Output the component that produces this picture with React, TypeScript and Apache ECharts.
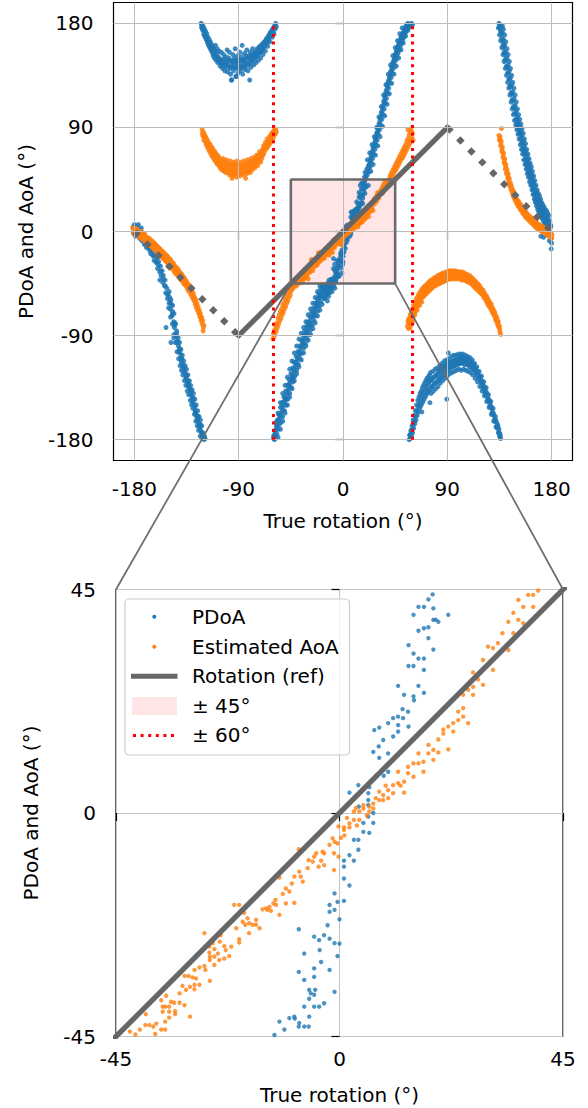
import { useEffect, useRef } from "react";
import * as echarts from "echarts";

type P = [number, number];

const BLUE = "#1f77b4";
const ORANGE = "#ff7f0e";
const REF = "#666666";
const EDGE = "#6b6b6b";
const FONT = "DejaVu Sans";

const topTicks = [-180, -90, 0, 90, 180];
const topRange = 198;
const zoomRange = 45;

const refSolid: P[] = [[-90, -90], [90, 90]];
const refDottedLeft: P[] = [[-180, 0], [-90, -90]];
const refDottedRight: P[] = [[90, 90], [180, 0]];
const limitLeft: P[] = [[-60, -180], [-60, 180]];
const limitRight: P[] = [[60, -180], [60, 180]];
const boxCorners: P[] = [[-45, -45], [45, -45], [45, 45], [-45, 45], [-45, -45]];

// PDoA (blue)
const pdoaA: P[] = [[-181,4],[-180.5,-2],[-180,6],[-179.5,0],[-179,-4],[-178.5,5],[-178,2],[-177.5,-3],[-177,3],[-176,-1],[-175.5,-6],[-175,1],[-174,-3],[-173.5,-8],[-173,-1],[-172,-6],[-171.5,-11],[-171,-4],[-170,-9],[-169.5,-14],[-169,-7],[-168,-12],[-167,-16],[-166.5,-10],[-166,-19],[-165,-14],[-164,-21],[-163.5,-17],[-163,-25],[-162,-20],[-161,-27],[-160.5,-23],[-160,-32],[-159,-26],[-158,-35],[-157.5,-30],[-157,-38],[-156,-34],[-155.5,-44],[-155,-38],[-154,-47],[-153.5,-42],[-153,-53],[-152,-49],[-151.5,-58],[-151,-54],[-150,-62],[-149.5,-57],[-149,-67],[-148,-63],[-147.5,-73],[-147,-69],[-146,-78],[-145.5,-83],[-145,-79],[-144,-90],[-143.5,-86],[-143,-96],[-142,-99],[-141.5,-104],[-141,-101],[-140,-109],[-139.5,-113],[-139,-110],[-138,-117],[-137.5,-121],[-137,-118],[-136,-124],[-135.5,-127],[-135,-124],[-134,-131],[-133.5,-134],[-133,-130],[-132,-138],[-131.5,-141],[-131,-137],[-130,-145],[-129.5,-148],[-129,-144],[-128,-152],[-127.5,-155],[-127,-158],[-126,-161],[-125.5,-164],[-125,-160],[-124,-168],[-123.5,-171],[-123,-167],[-122,-175],[-121.5,-178],[-121,-174],[-120,-180],[-119.5,-177],[-119,-179],[-152.7,-83],[-148.4,-96],[-158,-42],[-146,-92],[-174,3],[-176.5,6]];
const pdoaAfill: P[] = [[-179.25,2],[-177.25,-1],[-175.25,-2],[-173.25,-6],[-171.25,-8],[-169.25,-11],[-167.25,-14],[-165.25,-17],[-163.25,-21],[-161.25,-26],[-159.25,-29],[-157.25,-34],[-155.25,-41],[-153.25,-47],[-151.25,-55],[-149.25,-61],[-147.25,-71],[-145.25,-81],[-143.75,-91],[-142.75,-95],[-141.25,-103],[-140.25,-106],[-139.25,-111],[-138.25,-115],[-137.25,-119],[-136.25,-122],[-135.25,-126],[-134.25,-129],[-133.25,-133],[-132.25,-136],[-131.25,-139],[-130.25,-143],[-129.25,-146],[-128.25,-150],[-127.25,-156],[-126.25,-159],[-125.25,-163],[-124.25,-166],[-123.25,-169],[-122.25,-173],[-121.25,-176],[-150.5,-66],[-148.8,-74],[-147.2,-80],[-145.8,-89],[-144.6,-96],[-143.2,-104],[-141.8,-110],[-140.6,-116],[-139.4,-120],[-138.2,-124],[-136.8,-129],[-135.6,-133],[-134.4,-138],[-133.2,-141],[-131.8,-146],[-130.6,-150],[-129.4,-153],[-128.2,-158],[-127,-164],[-125.8,-168],[-124.6,-172],[-123.2,-177],[-150,-52],[-148.5,-59],[-147,-64],[-145.8,-71],[-144.5,-80],[-143.5,-88],[-142.2,-92],[-141,-96],[-139.8,-102],[-138.6,-107],[-137.4,-112],[-136.2,-116],[-135,-119],[-133.8,-124],[-132.6,-129],[-131.4,-133],[-130.2,-137],[-129,-140],[-127.8,-145],[-126.6,-150],[-125.4,-155],[-124.2,-160],[-123,-163],[-121.8,-168]];

const pdoaB: P[] = [[-122.5,180],[-122,177],[-121.5,179],[-121,174],[-120.5,177],[-120,171],[-119.5,175],[-119,168],[-118.5,173],[-118,166],[-117.5,171],[-117,164],[-116.5,168],[-116,161],[-115.5,166],[-115,159],[-114.5,164],[-114,157],[-113.5,162],[-113,155],[-112.5,160],[-112,152],[-111.5,158],[-111,150],[-110.5,156],[-110,161],[-109.5,148],[-109,154],[-108.5,158],[-108,146],[-107.5,151],[-107,156],[-106,143],[-105.5,149],[-105,155],[-104,141],[-103.5,147],[-103,153],[-102,139],[-101.5,145],[-101,151],[-100,157],[-99.5,138],[-99,144],[-98.5,150],[-98,155],[-97,136],[-96.5,142],[-96,131],[-95.5,148],[-95,153],[-94.5,139],[-94,145],[-93.5,150],[-93,158],[-92.5,134],[-92,141],[-91.5,147],[-91,152],[-90.5,137],[-90,143],[-89.5,149],[-89,155],[-88.5,139],[-88,145],[-87.5,151],[-87,161],[-86.5,136],[-86,142],[-85.5,148],[-85,154],[-84.5,140],[-84,146],[-83.5,152],[-83,157],[-82,139],[-81.5,144],[-81,150],[-80.5,131],[-80,155],[-79.5,142],[-79,148],[-78.5,153],[-78,158],[-77,144],[-76.5,150],[-76,155],[-75,146],[-74.5,152],[-74,158],[-73,148],[-72.5,154],[-72,160],[-71,150],[-70.5,156],[-70,162],[-69,153],[-68.5,159],[-68,164],[-67,156],[-66.5,162],[-66,167],[-65,160],[-64.5,165],[-64,170],[-63,164],[-62.5,169],[-62,173],[-61,168],[-60.5,172],[-60,176],[-59.5,171],[-59,178],[-58.5,175],[-58,180],[-57.5,177],[-96.3,131],[-92.2,134]];
const pdoaBfill: P[] = [[-121.75,176],[-120.75,175],[-119.75,170],[-118.75,170],[-117.75,167],[-116.75,163],[-115.75,162],[-114.75,161],[-113.75,158],[-112.75,158],[-111.75,154],[-110.75,153],[-109.75,151],[-108.75,150],[-107.75,149],[-106.75,147],[-105.75,146],[-104.75,145],[-103.75,144],[-102.75,149],[-101.75,142],[-100.75,147],[-99.75,143],[-98.75,148],[-97.75,141],[-96.75,147],[-95.75,143],[-94.75,147],[-93.75,142],[-92.75,148],[-91.75,143],[-90.75,147],[-89.75,141],[-88.75,148],[-87.75,142],[-86.75,148],[-85.75,144],[-84.75,149],[-83.75,143],[-82.75,150],[-81.75,146],[-80.75,152],[-79.75,146],[-78.75,151],[-77.75,148],[-76.75,153],[-75.75,150],[-74.75,155],[-73.75,152],[-72.75,158],[-71.75,155],[-70.75,160],[-69.75,157],[-68.75,162],[-67.75,160],[-66.75,165],[-65.75,163],[-64.75,168],[-63.75,167],[-62.75,172],[-61.75,171],[-60.75,175],[-59.75,176],[-58.75,177]];

const pdoaC: P[] = [[-60,-179],[-59.5,-176],[-59,-180],[-58.5,-172],[-58,-177],[-57.5,-168],[-57,-175],[-56.5,-163],[-56,-171],[-55.5,-158],[-55,-167],[-54.5,-161],[-54,-152],[-53.5,-165],[-53,-156],[-52.5,-148],[-52,-160],[-51.5,-151],[-51,-143],[-50.5,-155],[-50,-146],[-49.5,-138],[-49,-150],[-48.5,-141],[-48,-133],[-47.5,-145],[-47,-136],[-46.5,-128],[-46,-140],[-45.5,-131],[-45,-123],[-44.5,-135],[-44,-126],[-43.5,-118],[-43,-130],[-42.5,-121],[-42,-113],[-41.5,-125],[-41,-116],[-40.5,-108],[-40,-120],[-39.5,-111],[-39,-104],[-38.5,-115],[-38,-106],[-37.5,-99],[-37,-110],[-36.5,-101],[-36,-94],[-35.5,-105],[-35,-97],[-34.5,-90],[-34,-101],[-33.5,-93],[-33,-86],[-32.5,-97],[-32,-89],[-31.5,-82],[-31,-93],[-30.5,-85],[-30,-78],[-29.5,-89],[-29,-81],[-28.5,-74],[-28,-85],[-27.5,-77],[-27,-70],[-26.5,-81],[-26,-73],[-25.5,-66],[-25,-77],[-24.5,-69],[-24,-62],[-23.5,-73],[-23,-65],[-22.5,-58],[-22,-69],[-21.5,-61],[-21,-54],[-20.5,-65],[-20,-57],[-19.5,-50],[-19,-61],[-18.5,-53],[-18,-47],[-17.5,-57],[-17,-50],[-16.5,-54],[-16,-47],[-15.5,-58],[-15,-51],[-14.5,-55],[-14,-48],[-13.5,-60],[-13,-52],[-12.5,-56],[-12,-49],[-11.5,-53],[-11,-47],[-10.5,-50],[-10,-46],[-9.5,-52],[-9,-48],[-8,-47],[-7,-49]];
const pdoaCfill: P[] = [[-59.75,-177],[-58.75,-173],[-57.75,-171],[-56.75,-167],[-55.75,-163],[-54.75,-158],[-53.75,-160],[-52.75,-152],[-51.75,-155],[-50.75,-147],[-49.75,-144],[-48.75,-145],[-47.75,-139],[-46.75,-132],[-45.75,-135],[-44.75,-128],[-43.75,-124],[-42.75,-126],[-41.75,-119],[-40.75,-113],[-39.75,-115],[-38.75,-109],[-37.75,-104],[-36.75,-106],[-35.75,-99],[-34.75,-94],[-33.75,-97],[-32.75,-90],[-31.75,-87],[-30.75,-89],[-29.75,-82],[-28.75,-79],[-27.75,-81],[-26.75,-74],[-25.75,-70],[-24.75,-72],[-23.75,-66],[-22.75,-62],[-21.75,-64],[-20.75,-58],[-19.75,-55],[-18.75,-56],[-17.75,-51],[-16.75,-49],[-15.75,-51],[-14.75,-47],[-13.75,-53],[-12.75,-46],[-58,-165],[-56,-157],[-54,-148],[-52,-140],[-50,-133],[-48,-126],[-46,-119],[-44,-112],[-42,-105],[-40,-99],[-38,-93],[-36,-88],[-34,-83],[-32,-78],[-30,-72],[-28,-67],[-26,-62],[-24,-57],[-22,-52],[-20,-47],[-56,-178],[-54,-171],[-52,-164],[-50,-157],[-48,-150],[-46,-143],[-44,-136],[-42,-129],[-40,-123],[-38,-117],[-36,-111],[-34,-105],[-32,-99],[-30,-94],[-28,-89],[-26,-84],[-24,-79],[-22,-73],[-20,-68],[-18,-63],[-16,-58],[-14,-54],[-12,-51],[-10,-48]];

const pdoaWin: P[] = [[-13.1,-44.7],[-12.1,-42.0],[-11.1,-43.6],[-10.1,-41.3],[-9.1,-41.0],[-9.0,-41.4],[-8.1,-42.3],[-8.2,-43.0],[-7.1,-43.0],[-6.2,-43.0],[-6.1,-41.0],[-7.1,-39.0],[-5.1,-39.0],[-6.1,-35.6],[-5.8,-36.3],[-5.1,-36.6],[-4.1,-39.0],[-3.1,-38.3],[-4.9,-35.6],[-6.1,-37.4],[-1.0,-36.0],[-7.1,-33.6],[-8.2,-32.0],[-5.1,-31.3],[-5.1,-33.0],[-3.7,-30.0],[-2.0,-31.6],[-7.1,-28.3],[-8.2,-23.4],[-5.1,-24.9],[-4.1,-25.6],[-4.0,-27.6],[-3.1,-24.6],[-2.0,-25.3],[-2.4,-22.6],[-1.0,-26.2],[-0.4,-28.8],[-2.0,-19.9],[-1.0,-19.5],[-2.0,-18.5],[-1.0,-16.2],[-0.4,-17.9],[0,-26.3],[0,-21.4],[0.9,-17.7],[0.9,-13.2],[2,-14.6],[0.9,-10.8],[0.9,-9.6],[2,-8.5],[2.9,-9.6],[2.9,-5.4],[3.8,-5.4],[3.8,-7.4],[4.8,-3.8],[6,-4],[6.8,-2],[4.8,-2],[5.8,-0.7],[6.8,0],[5.8,1.6],[3.9,1.3],[5.8,2.6],[3.8,5.6],[2,4.1],[6,5.2],[5.8,4],[7.5,7.6],[8.8,8.7],[8.9,7.5],[9.8,8.3],[6.8,12.3],[8,11.1],[8.8,14.7],[7.9,13.4],[9.8,12],[10.8,15.4],[9.8,18.1],[11.8,16.4],[10.8,19.1],[7,16.7],[8,17.2],[11.8,19.4],[12.8,19.1],[13.8,20.4],[11.8,17.7],[13.9,17.4],[12.7,20.9],[13,23.8],[15,22.7],[14.9,23.5],[15.9,25.6],[17,24.2],[11.8,25.6],[13.9,29.6],[14.9,29.6],[15.9,31.1],[17,31.1],[17,28.8],[13.9,33.8],[14.9,32.1],[18.9,32.9],[15.9,36.7],[17,37.2],[17.9,37.4],[17.9,35.2],[14.9,39.9],[15.9,41.5],[17,41.5],[17.9,43],[18.9,41.2],[18.9,38.9],[19.9,38.5],[21.9,39.9],[19.4,38.9]];

const pdoaUp: P[] = [[18.5,47],[19,51],[20,46],[20.5,54],[21,49],[22,57],[22.5,52],[23,61],[23.5,56],[24,64],[24.5,59],[25,68],[25.5,63],[26,72],[26.5,67],[27,76],[27.5,71],[28,80],[28.5,75],[29,85],[29.5,79],[30,89],[30.5,84],[31,93],[31.5,88],[32,98],[32.5,92],[33,103],[33.5,97],[34,107],[34.5,101],[35,112],[35.5,106],[36,117],[36.5,111],[37,121],[37.5,115],[38,126],[38.5,120],[39,130],[39.5,124],[40,134],[40.5,129],[41,138],[41.5,133],[42,142],[42.5,137],[43,146],[43.5,141],[44,149],[44.5,144],[45,153],[45.5,148],[46,156],[46.5,151],[47,159],[47.5,154],[48,162],[48.5,157],[49,165],[49.5,160],[50,168],[50.5,163],[51,170],[51.5,166],[52,172],[52.5,168],[53,175],[53.5,171],[54,177],[54.5,173],[55,179],[55.5,175],[56,180],[56.5,177],[57,179],[58,178],[59,180],[60,179]];
const pdoaUpFill: P[] = [[18.75,44],[19.75,48],[20.75,51],[21.75,55],[22.75,58],[23.75,62],[24.75,66],[25.75,70],[26.75,74],[27.75,78],[28.75,82],[29.75,86],[30.75,90],[31.75,95],[32.75,100],[33.75,104],[34.75,109],[35.75,114],[36.75,118],[37.75,123],[38.75,127],[39.75,131],[40.75,135],[41.75,139],[42.75,143],[43.75,147],[44.75,150],[45.75,154],[46.75,157],[47.75,160],[48.75,163],[49.75,166],[50.75,168],[51.75,171],[52.75,173],[53.75,176],[54.75,177],[55.75,178],[21,62],[23,68],[25,75],[27,82],[29,90],[31,99],[33,108],[35,118],[37,127],[39,136],[41,144],[43,152],[45,159],[47,165],[49,171],[51,176],[24,52],[26,58],[28,66],[30,74],[32,82],[34,91],[36,100],[38,110],[40,119],[42,128],[44,136],[46,143],[48,150],[50,157],[52,163],[54,169],[56,174],[58,177]];

const pdoaD: P[] = [[57,-180],[57.5,-176],[58,-179],[58.5,-172],[59,-177],[59.5,-168],[60,-174],[60.5,-163],[61,-170],[61.5,-159],[62,-166],[62.5,-155],[63,-163],[63.5,-150],[64,-159],[64.5,-146],[65,-156],[65.5,-143],[66,-153],[66.5,-140],[67,-151],[67.5,-138],[68,-149],[68.5,-135],[69,-147],[69.5,-133],[70,-145],[70.5,-131],[71,-143],[71.5,-129],[72,-141],[72.5,-127],[73,-139],[73.5,-126],[74,-138],[74.5,-124],[75,-136],[75.5,-122],[76,-140],[76.5,-128],[77,-134],[77.5,-121],[78,-138],[78.5,-126],[79,-132],[79.5,-119],[80,-136],[80.5,-124],[81,-130],[81.5,-118],[82,-134],[82.5,-121],[83,-128],[83.5,-116],[84,-131],[84.5,-119],[85,-126],[85.5,-114],[86,-129],[86.5,-117],[87,-124],[87.5,-112],[88,-127],[88.5,-115],[89,-122],[89.5,-111],[90,-125],[90.5,-114],[91,-120],[91.5,-110],[92,-123],[92.5,-113],[93,-118],[93.5,-108],[94,-122],[94.5,-112],[95,-117],[95.5,-107],[96,-121],[96.5,-111],[97,-116],[97.5,-107],[98,-120],[98.5,-110],[99,-115],[99.5,-106],[100,-119],[100.5,-109],[101,-114],[101.5,-106],[102,-120],[102.5,-109],[103,-114],[103.5,-106],[104,-119],[104.5,-110],[105,-115],[105.5,-107],[106,-120],[106.5,-110],[107,-115],[107.5,-108],[108,-121],[108.5,-111],[109,-117],[109.5,-109],[110,-122],[110.5,-113],[111,-118],[111.5,-111],[112,-124],[112.5,-115],[113,-120],[113.5,-114],[114,-127],[114.5,-118],[115,-123],[115.5,-117],[116,-130],[116.5,-122],[117,-127],[117.5,-121],[118,-134],[118.5,-126],[119,-131],[119.5,-125],[120,-138],[120.5,-131],[121,-136],[121.5,-130],[122,-142],[122.5,-136],[123,-141],[123.5,-135],[124,-147],[124.5,-141],[125,-146],[125.5,-141],[126,-152],[126.5,-147],[127,-152],[127.5,-147],[128,-158],[128.5,-153],[129,-158],[129.5,-153],[130,-164],[130.5,-159],[131,-164],[131.5,-160],[132,-169],[132.5,-165],[133,-170],[133.5,-167],[134,-174],[134.5,-171],[135,-177],[135.5,-175],[136,-179],[90.9,-105],[89.5,-145],[75,-148],[68,-156]];
const pdoaDfill: P[] = [[57.75,-176],[58.75,-174],[59.75,-171],[60.75,-167],[61.75,-164],[62.75,-160],[63.75,-155],[64.75,-151],[65.75,-149],[66.75,-146],[67.75,-143],[68.75,-141],[69.75,-139],[70.75,-137],[71.75,-135],[72.75,-133],[73.75,-131],[74.75,-130],[75.75,-128],[76.75,-134],[77.75,-126],[78.75,-131],[79.75,-125],[80.75,-130],[81.75,-123],[82.75,-127],[83.75,-121],[84.75,-124],[85.75,-119],[86.75,-122],[87.75,-117],[88.75,-120],[89.75,-116],[90.75,-118],[91.75,-114],[92.75,-117],[93.75,-113],[94.75,-116],[95.75,-112],[96.75,-115],[97.75,-112],[98.75,-114],[99.75,-111],[100.75,-114],[101.75,-110],[102.75,-113],[103.75,-110],[104.75,-113],[105.75,-111],[106.75,-114],[107.75,-112],[108.75,-115],[109.75,-113],[110.75,-117],[111.75,-115],[112.75,-119],[113.75,-118],[114.75,-122],[115.75,-121],[116.75,-125],[117.75,-125],[118.75,-129],[119.75,-129],[120.75,-134],[121.75,-134],[122.75,-139],[123.75,-139],[124.75,-144],[125.75,-145],[126.75,-150],[127.75,-151],[128.75,-156],[129.75,-157],[130.75,-162],[131.75,-163],[132.75,-168],[133.75,-169],[134.75,-174],[135.75,-177]];

const pdoaE: P[] = [[134.5,180],[135,177],[135.5,179],[136,173],[136.5,177],[137,167],[137.5,172],[138,161],[138.5,166],[139,155],[139.5,161],[140,149],[140.5,155],[141,143],[141.5,150],[142,137],[142.5,144],[143,132],[143.5,139],[144,126],[144.5,133],[145,120],[145.5,127],[146,114],[146.5,121],[147,108],[147.5,115],[148,102],[148.5,109],[149,97],[149.5,104],[150,93],[150.5,99],[151,89],[151.5,95],[152,85],[152.5,91],[153,80],[153.5,87],[154,76],[154.5,83],[155,71],[155.5,78],[156,67],[156.5,74],[157,62],[157.5,70],[158,58],[158.5,66],[159,55],[159.5,62],[160,51],[160.5,58],[161,47],[161.5,54],[162,44],[162.5,50],[163,40],[163.5,47],[164,36],[164.5,43],[165,32],[165.5,39],[166,28],[166.5,35],[167,25],[167.5,32],[168,22],[168.5,29],[169,20],[169.5,27],[170,17],[170.5,24],[171,15],[171.5,22],[172,13],[172.5,20],[173,11],[173.5,18],[174,9],[174.5,16],[175,7],[175.5,14],[176,6],[176.5,12],[177,4],[177.5,10],[178,2],[178.5,8],[179,-1],[179.3,5],[179.5,-6],[180,-10],[179.6,-15],[170.7,-4],[173,-5],[176,-3],[178,-8]];
const pdoaEfill: P[] = [[135.75,175],[136.75,171],[137.75,164],[138.75,159],[139.75,153],[140.75,148],[141.75,142],[142.75,137],[143.75,131],[144.75,125],[145.75,119],[146.75,113],[147.75,107],[148.75,102],[149.75,97],[150.75,93],[151.75,89],[152.75,85],[153.75,81],[154.75,77],[155.75,72],[156.75,68],[157.75,64],[158.75,60],[159.75,56],[160.75,52],[161.75,49],[162.75,45],[163.75,41],[164.75,37],[165.75,33],[166.75,30],[167.75,27],[168.75,24],[169.75,21],[170.75,19],[171.75,17],[172.75,15],[173.75,13],[174.75,11],[175.75,9],[176.75,7],[177.75,5],[178.75,3],[137.5,178],[138.5,175],[139.5,170],[140.5,164],[141.5,158],[142.5,153],[143.5,147],[144.5,141],[145.5,135],[146.5,129],[147.5,124],[148.5,118],[149.5,112],[150.5,106],[151.5,101],[152.5,97],[153.5,93],[154.5,89],[155.5,85],[156.5,80],[157.5,76],[158.5,71],[159.5,67],[160.5,63],[161.5,59],[162.5,56],[163.5,52],[164.5,48],[165.5,44],[166.5,40],[167.5,36],[168.5,33],[169.5,31],[170.5,28],[171.5,25],[172.5,23],[173.5,21],[174.5,19],[175.5,18],[176.5,16],[177.5,14],[134,176],[135,170],[136,165],[137,159],[138,153],[139,147],[140,141],[141,135],[142,129],[143,124],[144,118],[145,112],[146,106],[147,101],[148,96],[149,92],[150,88],[151,84],[152,80],[153,75],[154,71],[155,67],[156,62],[157,58],[158,54],[159,50],[160,47],[161,43],[162,40],[163,36],[164,32],[165,28],[166,25],[167,22],[168,19],[169,17],[170,15],[171,13],[172,11],[173,9],[174,7],[175,5],[176,3],[177,1]];

// Estimated AoA (orange)
const aoaA: P[] = [[-181.5,3],[-181,-1],[-180.5,2],[-180,-2],[-179.5,3],[-179,-1],[-178.5,1],[-178,-3],[-177.5,2],[-177,-2],[-176.5,-4],[-176,0],[-175.5,-5],[-175,-1],[-174.5,-4],[-174,0],[-173.5,-6],[-173,-2],[-172.5,-7],[-172,-3],[-171.5,-6],[-171,-2],[-170.5,-9],[-170,-5],[-169.5,-9],[-169,-5],[-168.5,-10],[-168,-6],[-167.5,-11],[-167,-6],[-166.5,-12],[-166,-8],[-165.5,-12],[-165,-8],[-164.5,-14],[-164,-9],[-163.5,-14],[-163,-10],[-162.5,-16],[-162,-11],[-161.5,-16],[-161,-12],[-160.5,-18],[-160,-13],[-159.5,-18],[-159,-14],[-158.5,-20],[-158,-15],[-157.5,-21],[-157,-16],[-156.5,-22],[-156,-17],[-155.5,-23],[-155,-18],[-154.5,-23],[-154,-19],[-153.5,-25],[-153,-20],[-152.5,-26],[-152,-21],[-151.5,-27],[-151,-22],[-150.5,-29],[-150,-24],[-149.5,-29],[-149,-24],[-148.5,-31],[-148,-26],[-147.5,-32],[-147,-27],[-146.5,-33],[-146,-28],[-145.5,-35],[-145,-30],[-144.5,-36],[-144,-31],[-143.5,-37],[-143,-32],[-142.5,-38],[-142,-33],[-141.5,-39],[-141,-35],[-140.5,-41],[-140,-36],[-139.5,-42],[-139,-37],[-138.5,-43],[-138,-39],[-137.5,-45],[-137,-40],[-136.5,-46],[-136,-42],[-135.5,-47],[-135,-43],[-134.5,-49],[-134,-45],[-133.5,-51],[-133,-46],[-132.5,-52],[-132,-48],[-131.5,-54],[-131,-50],[-130.5,-56],[-130,-52],[-129.5,-58],[-129,-54],[-128.5,-60],[-128,-57],[-127.5,-63],[-127,-59],[-126.5,-66],[-126,-62],[-125.5,-68],[-125,-65],[-124.5,-71],[-124,-68],[-123.5,-74],[-123,-71],[-122.5,-77],[-122,-74],[-121.5,-80],[-121,-77],[-120.5,-83],[-120,-81],[-120.7,-86]];
const aoaAfill: P[] = [[-180.25,0],[-178.25,-1],[-176.25,-2],[-174.25,-3],[-172.25,-5],[-170.25,-7],[-168.25,-8],[-166.25,-10],[-164.25,-11],[-162.25,-13],[-160.25,-15],[-158.25,-17],[-156.25,-19],[-154.25,-21],[-152.25,-23],[-150.25,-26],[-148.25,-28],[-146.25,-30],[-144.25,-33],[-142.25,-35],[-140.25,-38],[-138.25,-41],[-136.25,-44],[-134.25,-47],[-132.25,-50],[-130.25,-54],[-128.25,-58],[-126.25,-64],[-124.25,-70],[-122.25,-75]];

const aoaB: P[] = [[-121.5,88],[-121,83],[-120.5,86],[-120,79],[-119.5,84],[-119,78],[-118.5,82],[-118,75],[-117.5,80],[-117,73],[-116.5,78],[-116,71],[-115.5,76],[-115,69],[-114.5,75],[-114,67],[-113.5,73],[-113,65],[-112.5,72],[-112,64],[-111.5,70],[-111,62],[-110.5,69],[-110,61],[-109.5,67],[-109,59],[-108.5,66],[-108,58],[-107.5,65],[-107,57],[-106.5,63],[-106,55],[-105.5,62],[-105,54],[-104.5,61],[-104,53],[-103.5,63],[-103,56],[-102.5,52],[-102,60],[-101.5,55],[-101,51],[-100.5,62],[-100,57],[-99.5,51],[-99,59],[-98.5,54],[-98,49],[-97.5,61],[-97,56],[-96.5,50],[-96,58],[-95.5,53],[-95,48],[-94.5,60],[-94,55],[-93.5,50],[-93,58],[-92.5,52],[-92,47],[-91.5,61],[-91,55],[-90.5,49],[-90,58],[-89.5,53],[-89,48],[-88.5,60],[-88,55],[-87.5,50],[-87,58],[-86.5,53],[-86,49],[-85.5,61],[-85,56],[-84.5,51],[-84,59],[-83.5,54],[-83,50],[-82.5,62],[-82,57],[-81.5,52],[-81,60],[-80.5,55],[-80,51],[-79.5,63],[-79,58],[-78.5,53],[-78,61],[-77.5,56],[-77,64],[-76.5,59],[-76,55],[-75.5,63],[-75,58],[-74.5,66],[-74,61],[-73.5,57],[-73,66],[-72.5,61],[-72,69],[-71.5,64],[-71,60],[-70.5,68],[-70,63],[-69.5,71],[-69,66],[-68.5,74],[-68,68],[-67.5,72],[-67,77],[-66.5,71],[-66,75],[-65.5,80],[-65,73],[-64.5,78],[-64,75],[-63.5,82],[-63,76],[-62.5,80],[-62,84],[-61.5,78],[-61,83],[-60.5,86],[-60,81],[-59.5,85],[-59,89],[-58.5,84],[-58,88],[-57.5,86],[-95.8,46],[-84,46]];
const aoaBfill: P[] = [[-121.25,85],[-120.25,82],[-119.25,81],[-118.25,78],[-117.25,76],[-116.25,74],[-115.25,72],[-114.25,71],[-113.25,69],[-112.25,68],[-111.25,66],[-110.25,65],[-109.25,63],[-108.25,62],[-107.25,61],[-106.25,59],[-105.25,58],[-104.25,57],[-103.25,59],[-102.25,56],[-101.25,58],[-100.25,54],[-99.25,56],[-98.25,52],[-97.25,58],[-96.25,54],[-95.25,51],[-94.25,57],[-93.25,53],[-92.25,50],[-91.25,58],[-90.25,52],[-89.25,56],[-88.25,51],[-87.25,56],[-86.25,51],[-85.25,58],[-84.25,53],[-83.25,57],[-82.25,52],[-81.25,58],[-80.25,54],[-79.25,60],[-78.25,56],[-77.25,61],[-76.25,57],[-75.25,62],[-74.25,59],[-73.25,64],[-72.25,62],[-71.25,67],[-70.25,65],[-69.25,69],[-68.25,71],[-67.25,74],[-66.25,73],[-65.25,77],[-64.25,76],[-63.25,79],[-62.25,82],[-61.25,85],[-60.25,84],[-59.25,87]];

const aoaLow: P[] = [[-60.5,-93],[-60,-88],[-59.5,-91],[-59,-85],[-58.5,-88],[-58,-82],[-57.5,-86],[-57,-79],[-56.5,-83],[-56,-75],[-55.5,-80],[-55,-72],[-54.5,-77],[-54,-69],[-53.5,-75],[-53,-67],[-52.5,-72],[-52,-64],[-51.5,-70],[-51,-62],[-50.5,-67],[-50,-59],[-49.5,-65],[-49,-57],[-48.5,-62],[-48,-54],[-47.5,-60],[-47,-51],[-46.5,-57],[-46,-49],[-45.5,-55],[-45.3,-47],[-45,-52],[-44.5,-48],[-44,-50],[-43.5,-47],[-43,-49],[-42,-47],[-41,-46],[-40,-47]];

const aoaWin: P[] = [[-42.2,-44.0],[-41.1,-44.6],[-40.2,-43.6],[-39.0,-40.5],[-39.1,-42.7],[-38.3,-42.7],[-37.5,-43.0],[-36.9,-42.4],[-37.1,-44.5],[-35.9,-43.6],[-35.1,-43.6],[-35.1,-42.0],[-34.3,-41.2],[-35.6,-40.0],[-35.6,-39.0],[-35.1,-39.0],[-34.3,-39.0],[-33.3,-38.2],[-32.2,-38.2],[-33.9,-38.0],[-33.1,-39.9],[-34.3,-40.0],[-33.1,-40.5],[-31.2,-38.7],[-30.1,-41.0],[-35.9,-37.7],[-34.9,-36.8],[-32.2,-36.3],[-31.6,-34.8],[-30.9,-35.6],[-30.1,-35.0],[-29.2,-34.6],[-30.4,-32.8],[-29.6,-33.1],[-28.9,-33.3],[-28.2,-34.6],[-31.2,-32.8],[-29.2,-31.6],[-28.2,-31.1],[-27.2,-30.8],[-27.0,-31.6],[-26.1,-33.8],[-29.2,-35.5],[-27.2,-24.2],[-26.2,-26.9],[-25.5,-26.2],[-25.2,-27.4],[-26.2,-28.1],[-26.1,-28.9],[-26.1,-29.6],[-25.2,-28.9],[-24.5,-28.3],[-24.1,-25.9],[-23.9,-24.6],[-23.2,-26.8],[-22.9,-27.6],[-22.2,-28.8],[-21.8,-26.9],[-24.2,-29.6],[-23.2,-29.3],[-25.2,-30.6],[-20.2,-25.4],[-20.2,-26.1],[-19.5,-21.9],[-19.0,-22.5],[-18.2,-22.2],[-18.2,-24.2],[-17.5,-22.5],[-16.8,-22.5],[-16.1,-23.2],[-21.2,-18.5],[-20.2,-18.5],[-20.8,-23.2],[-19.2,-20.1],[-18.5,-21.2],[-16.8,-21.5],[-15.5,-19.4],[-14.8,-19.2],[-14.5,-19.5],[-14.1,-18.9],[-13.8,-19.7],[-13.3,-18.2],[-12.9,-17.5],[-12.8,-18.5],[-12.1,-20.5],[-12.1,-13.0],[-11.4,-16.3],[-10.8,-15.2],[-10.8,-18.2],[-10.1,-15.8],[-9.6,-14.2],[-9.1,-18.1],[-9.1,-12.8],[-8.2,-7.3],[-8.1,-11.8],[-7.8,-12.8],[-7.4,-13.8],[-6.4,-11.1],[-6.2,-9.5],[-5.4,-9.8],[-5.1,-8.8],[-4.7,-8.1],[-4.2,-10.8],[-3.7,-9.6],[-3.1,-10.5],[-3.4,-7.8],[-3.1,-8.1],[-2.0,-6.4],[-1.4,-5.1],[-1.0,-5.8],[-0.4,-6.1],[-0.2,-2.7],[-0.2,-8.8],[-1.1,-11.5],[-1.1,-8.1],[0.9,-2.9],[0.9,-3.4],[2,-2.9],[2,-2.1],[2.9,-1.4],[2.9,0.3],[4,-1.4],[4,0.3],[4.8,0.9],[4.8,1.6],[6,1.3],[6,0.3],[6.8,0.9],[6.8,1.9],[8,4.3],[8,2.6],[8.8,3.6],[8.8,2.6],[9.8,3],[9.8,4.6],[10.8,4],[10.8,5.6],[11.8,6],[11.8,8.3],[13,4.1],[13,6.3],[13.8,8],[13.8,9.3],[14.9,10],[14.9,7.3],[15.9,12],[15.9,10],[16.9,8.3],[16.9,10.3],[17.9,12],[17.9,13.7],[18.9,12.7],[18.9,10.7],[19.9,12.2],[19.9,14.8],[20.9,16],[20.9,16.8],[21.9,12.8],[21.9,17.4],[22.9,18.1],[22.9,16.4],[23.9,20.4],[23.9,18.7],[24.9,21.1],[24.9,19.4],[25.9,18.1],[24.9,23.8],[25.9,24.8],[26.9,25.4],[26.9,23.8],[26.9,28.3],[27.9,26.9],[28.9,25.8],[28.9,30.8],[29.9,29.8],[29.9,33.5],[30.9,28.8],[30.9,33.2],[31.9,34.2],[32.8,36.2],[34,32.8],[34,38.5],[35,36.2],[35,40.3],[36,38.9],[36,42.9],[37,38.2],[37,41.5],[38,43.9],[39,41.5],[39,43.9],[40,44.8],[0.3,-5],[1,-4.5],[1.5,-1],[3.5,-2.5],[5.5,-0.5],[7.3,3],[9.3,5.5],[12.3,5.5],[3.3,1]];

const aoaUp: P[] = [[40.5,47],[41,49],[41.5,46],[42,51],[42.5,48],[43,53],[43.5,50],[44,55],[44.5,52],[45,57],[45.5,53],[46,59],[46.5,55],[47,61],[47.5,57],[48,63],[48.5,59],[49,65],[49.5,61],[50,67],[50.5,63],[51,69],[51.5,64],[52,71],[52.5,66],[53,73],[53.5,68],[54,75],[54.5,70],[55,78],[55.5,72],[56,80],[56.5,74],[57,83],[57.5,76],[58,85],[58.5,79],[59,87],[59.5,81],[60,85],[60.5,79],[56,88],[58.5,89]];

const aoaD: P[] = [[55.5,-82],[56,-77],[56.5,-84],[57,-75],[57.5,-80],[58,-72],[58.5,-78],[59,-70],[59.5,-75],[60,-67],[60.5,-74],[61,-64],[61.5,-71],[62,-62],[62.5,-69],[63,-59],[63.5,-66],[64,-57],[64.5,-64],[65,-55],[65.5,-62],[66,-53],[66.5,-60],[67,-52],[67.5,-58],[68,-50],[68.5,-57],[69,-49],[69.5,-56],[70,-48],[70.5,-55],[71,-47],[71.5,-54],[72,-46],[72.5,-53],[73,-45],[73.5,-52],[74,-44],[74.5,-51],[75,-43],[75.5,-50],[76,-42],[76.5,-49],[77,-42],[77.5,-48],[78,-41],[78.5,-47],[79,-40],[79.5,-47],[80,-40],[80.5,-46],[81,-39],[81.5,-46],[82,-38],[82.5,-45],[83,-38],[83.5,-45],[84,-37],[84.5,-44],[85,-37],[85.5,-44],[86,-36],[86.5,-43],[87,-36],[87.5,-43],[88,-36],[88.5,-42],[89,-35],[89.5,-42],[90,-35],[90.5,-41],[91,-34],[91.5,-41],[92,-35],[92.5,-41],[93,-34],[93.5,-40],[94,-35],[94.5,-41],[95,-34],[95.5,-40],[96,-35],[96.5,-41],[97,-34],[97.5,-40],[98,-35],[98.5,-41],[99,-35],[99.5,-40],[100,-35],[100.5,-41],[101,-35],[101.5,-41],[102,-36],[102.5,-42],[103,-35],[103.5,-41],[104,-36],[104.5,-42],[105,-36],[105.5,-42],[106,-37],[106.5,-43],[107,-37],[107.5,-43],[108,-38],[108.5,-44],[109,-38],[109.5,-44],[110,-39],[110.5,-45],[111,-40],[111.5,-46],[112,-41],[112.5,-47],[113,-42],[113.5,-48],[114,-43],[114.5,-49],[115,-44],[115.5,-50],[116,-45],[116.5,-51],[117,-46],[117.5,-52],[118,-47],[118.5,-53],[119,-49],[119.5,-54],[120,-50],[120.5,-55],[121,-51],[121.5,-57],[122,-53],[122.5,-58],[123,-55],[123.5,-60],[124,-56],[124.5,-62],[125,-58],[125.5,-64],[126,-60],[126.5,-65],[127,-62],[127.5,-67],[128,-63],[128.5,-69],[129,-66],[129.5,-71],[130,-68],[130.5,-73],[131,-70],[131.5,-76],[132,-73],[132.5,-78],[133,-75],[133.5,-81],[134,-78],[134.5,-83],[135,-82],[135.5,-87],[136,-89],[62,-72],[64,-68],[66,-64],[60,-78],[68,-61],[58,-83]];
const aoaDfill: P[] = [[56.25,-79],[57.25,-77],[58.25,-75],[59.25,-72],[60.25,-70],[61.25,-67],[62.25,-65],[63.25,-62],[64.25,-60],[65.25,-58],[66.25,-56],[67.25,-55],[68.25,-53],[69.25,-52],[70.25,-51],[71.25,-50],[72.25,-49],[73.25,-48],[74.25,-47],[75.25,-46],[76.25,-45],[77.25,-45],[78.25,-44],[79.25,-43],[80.25,-43],[81.25,-42],[82.25,-41],[83.25,-41],[84.25,-40],[85.25,-40],[86.25,-39],[87.25,-39],[88.25,-38],[89.25,-38],[90.25,-38],[91.25,-37],[92.25,-38],[93.25,-37],[94.25,-38],[95.25,-37],[96.25,-38],[97.25,-37],[98.25,-38],[99.25,-37],[100.25,-38],[101.25,-38],[102.25,-39],[103.25,-38],[104.25,-39],[105.25,-39],[106.25,-40],[107.25,-40],[108.25,-41],[109.25,-41],[110.25,-42],[111.25,-43],[112.25,-44],[113.25,-45],[114.25,-46],[115.25,-47],[116.25,-48],[117.25,-49],[118.25,-50],[119.25,-52],[120.25,-53],[121.25,-54],[122.25,-56],[123.25,-58],[124.25,-59],[125.25,-61],[126.25,-63],[127.25,-65],[128.25,-66],[129.25,-69],[130.25,-71],[131.25,-73],[132.25,-76],[133.25,-78],[134.25,-81],[135.25,-85]];

const aoaE: P[] = [[134.5,83],[136.7,89],[135,79],[135.5,82],[136,74],[136.5,78],[137,69],[137.5,73],[138,64],[138.5,68],[139,59],[139.5,63],[140,54],[140.5,58],[141,50],[141.5,54],[142,46],[142.5,50],[143,42],[143.5,46],[144,39],[144.5,42],[145,36],[145.5,39],[146,33],[146.5,36],[147,30],[147.5,34],[148,28],[148.5,31],[149,26],[149.5,29],[150,24],[150.5,27],[151,22],[151.5,26],[152,21],[152.5,24],[153,19],[153.5,23],[154,18],[154.5,21],[155,16],[155.5,20],[156,15],[156.5,18],[157,13],[157.5,17],[158,12],[158.5,16],[159,11],[159.5,14],[160,10],[160.5,14],[161,9],[161.5,12],[162,8],[162.5,12],[163,7],[163.5,11],[164,6],[164.5,10],[165,5],[165.5,9],[166,4],[166.5,8],[167,3],[167.5,7],[168,3],[168.5,6],[169,2],[169.5,6],[170,1],[170.5,5],[171,1],[171.5,4],[172,0],[172.5,4],[173,-1],[173.5,3],[174,-1],[174.5,2],[175,-2],[175.5,2],[176,-3],[176.5,1],[177,-3],[177.5,0],[178,-4],[178.5,0],[179,-5],[179.5,-2],[180,-6],[180.3,-3]];
const aoaEfill: P[] = [[135.25,80],[136.25,76],[137.25,71],[138.25,66],[139.25,61],[140.25,56],[141.25,52],[142.25,48],[143.25,44],[144.25,40],[145.25,37],[146.25,35],[147.25,32],[148.25,30],[149.25,28],[150.25,26],[151.25,24],[152.25,22],[153.25,21],[154.25,19],[155.25,18],[156.25,17],[157.25,15],[158.25,14],[159.25,13],[160.25,12],[161.25,11],[162.25,10],[163.25,9],[164.25,8],[165.25,7],[166.25,6],[167.25,5],[168.25,4],[169.25,4],[170.25,3],[171.25,2],[172.25,2],[173.25,1],[174.25,0],[175.25,0],[176.25,-1],[177.25,-1],[178.25,-2],[179.25,-3]];

const pdoa: P[] = [...pdoaA, ...pdoaAfill, ...pdoaB, ...pdoaBfill, ...pdoaC, ...pdoaCfill, ...pdoaWin, ...pdoaUp, ...pdoaUpFill, ...pdoaD, ...pdoaDfill, ...pdoaE, ...pdoaEfill];
const aoa: P[] = [...aoaA, ...aoaAfill, ...aoaB, ...aoaBfill, ...aoaLow, ...aoaWin, ...aoaUp, ...aoaD, ...aoaDfill, ...aoaE, ...aoaEfill];

const inZoom = (p: P) => Math.abs(p[0]) <= zoomRange && Math.abs(p[1]) <= zoomRange;

const axisText = { color: "#000", fontSize: 20, fontFamily: FONT };

function makeOption() {
  const tick = { show: true, inside: false, length: 8, lineStyle: { color: "#000", width: 1.2 } };
  const lineBase = { type: "line", symbol: "none", silent: true, emphasis: { disabled: true }, clip: true };
  return {
    animation: false,
    backgroundColor: "#ffffff",
    grid: [
      { left: 113.5, top: 2.5, width: 459, height: 458, show: true, borderColor: "#000", borderWidth: 1.2, backgroundColor: "transparent" },
      { left: 116, top: 589.5, width: 447, height: 447, show: true, borderColor: "#000", borderWidth: 1.2, backgroundColor: "transparent" },
    ],
    xAxis: [
      {
        gridIndex: 0, type: "value", min: -topRange, max: topRange,
        axisLine: { show: false },
        axisTick: { ...tick, customValues: topTicks },
        axisLabel: { ...axisText, customValues: topTicks, margin: 18 },
        splitLine: { show: false },
        name: "True rotation (°)", nameLocation: "middle", nameGap: 50, nameTextStyle: axisText,
      },
      {
        gridIndex: 1, type: "value", min: -zoomRange, max: zoomRange, interval: 45,
        axisLine: { show: false },
        axisTick: tick,
        axisLabel: { ...axisText, margin: 12, showMinLabel: true, showMaxLabel: true },
        splitLine: { show: true, lineStyle: { color: "#c4c4c4", width: 1 } },
        name: "True rotation (°)", nameLocation: "middle", nameGap: 48, nameTextStyle: axisText,
      },
    ],
    yAxis: [
      {
        gridIndex: 0, type: "value", min: -topRange, max: topRange,
        axisLine: { show: false },
        axisTick: { ...tick, customValues: topTicks },
        axisLabel: { ...axisText, customValues: topTicks, margin: 20 },
        splitLine: { show: false },
        name: "PDoA and AoA (°)", nameLocation: "middle", nameGap: 78, nameRotate: 90, nameTextStyle: axisText,
      },
      {
        gridIndex: 1, type: "value", min: -zoomRange, max: zoomRange, interval: 45,
        axisLine: { show: false },
        axisTick: tick,
        axisLabel: { ...axisText, margin: 20, showMinLabel: true, showMaxLabel: true },
        splitLine: { show: true, lineStyle: { color: "#c4c4c4", width: 1 } },
        name: "PDoA and AoA (°)", nameLocation: "middle", nameGap: 75, nameRotate: 90, nameTextStyle: axisText,
      },
    ],
    series: [
      {
        ...lineBase, xAxisIndex: 0, yAxisIndex: 0, data: [], z: 1,
        markLine: {
          silent: true, symbol: ["none", "none"], label: { show: false }, emphasis: { disabled: true },
          lineStyle: { color: "#bdbdbd", width: 1, type: "solid" },
          data: [...topTicks.map((v) => ({ xAxis: v })), ...topTicks.map((v) => ({ yAxis: v }))],
        },
      },
      {
        ...lineBase, xAxisIndex: 0, yAxisIndex: 0, data: [], z: 2,
        markArea: {
          silent: true, label: { show: false }, emphasis: { disabled: true },
          itemStyle: { color: "rgba(255,0,0,0.1)" },
          data: [[{ coord: boxCorners[0] }, { coord: boxCorners[2] }]],
        },
      },
      { name: "PDoA", type: "scatter", xAxisIndex: 0, yAxisIndex: 0, data: pdoa, symbolSize: 5, itemStyle: { color: BLUE, opacity: 0.85 }, silent: true, z: 3 },
      { name: "Estimated AoA", type: "scatter", xAxisIndex: 0, yAxisIndex: 0, data: aoa, symbolSize: 5, itemStyle: { color: ORANGE, opacity: 0.85 }, silent: true, z: 3 },
      { ...lineBase, name: "Rotation (ref)", xAxisIndex: 0, yAxisIndex: 0, data: refDottedLeft, z: 4, lineStyle: { color: REF, width: 6, type: [6, 9.5], cap: "butt" } },
      { ...lineBase, xAxisIndex: 0, yAxisIndex: 0, data: refDottedRight, z: 4, lineStyle: { color: REF, width: 6, type: [6, 9.5], cap: "butt" } },
      { ...lineBase, xAxisIndex: 0, yAxisIndex: 0, data: refSolid, z: 4, lineStyle: { color: REF, width: 5.2, cap: "square" } },
      { ...lineBase, xAxisIndex: 0, yAxisIndex: 0, data: boxCorners, z: 5, lineStyle: { color: EDGE, width: 2.6 } },
      { ...lineBase, name: "± 60°", xAxisIndex: 0, yAxisIndex: 0, data: limitLeft, z: 5, lineStyle: { color: "#ff0000", width: 3, type: [3, 4.6], cap: "butt" } },
      { ...lineBase, xAxisIndex: 0, yAxisIndex: 0, data: limitRight, z: 5, lineStyle: { color: "#ff0000", width: 3, type: [3, 4.6], cap: "butt" } },
      { type: "scatter", xAxisIndex: 1, yAxisIndex: 1, data: pdoa.filter(inZoom), symbolSize: 4.4, itemStyle: { color: BLUE }, silent: true, z: 3 },
      { type: "scatter", xAxisIndex: 1, yAxisIndex: 1, data: aoa.filter(inZoom), symbolSize: 4.4, itemStyle: { color: ORANGE }, silent: true, z: 3 },
      { ...lineBase, xAxisIndex: 1, yAxisIndex: 1, data: refSolid, z: 4, lineStyle: { color: REF, width: 5.2 } },
    ],
  };
}

function legendGraphics() {
  const txt = (label: string, y: number) => ({
    type: "text", x: 192, y, silent: true, z: 101,
    style: { text: label, fill: "#000", fontSize: 20, fontFamily: FONT, align: "left", verticalAlign: "middle" },
  });
  const rows = [616.7, 646.7, 676.2, 705.9, 735.4];
  return [
    { type: "rect", silent: true, z: 100, shape: { x: 125, y: 599, width: 224.5, height: 156, r: 4 }, style: { fill: "rgba(255,255,255,0.8)", stroke: "#cccccc", lineWidth: 1.2 } },
    { type: "circle", silent: true, z: 101, shape: { cx: 154.3, cy: rows[0], r: 2 }, style: { fill: BLUE } },
    txt("PDoA", rows[0]),
    { type: "circle", silent: true, z: 101, shape: { cx: 154.3, cy: rows[1], r: 2 }, style: { fill: ORANGE } },
    txt("Estimated AoA", rows[1]),
    { type: "line", silent: true, z: 101, shape: { x1: 131, y1: rows[2], x2: 177.5, y2: rows[2] }, style: { stroke: REF, lineWidth: 5 } },
    txt("Rotation (ref)", rows[2]),
    { type: "rect", silent: true, z: 101, shape: { x: 132, y: rows[3] - 9, width: 45, height: 18 }, style: { fill: "rgba(255,0,0,0.1)" } },
    txt("± 45°", rows[3]),
    { type: "line", silent: true, z: 101, shape: { x1: 133, y1: rows[4], x2: 178, y2: rows[4] }, style: { stroke: "#ff0000", lineWidth: 3, lineDash: [3, 4.6] } },
    txt("± 60°", rows[4]),
  ];
}

export default function App() {
  const ref = useRef<HTMLDivElement>(null);
  useEffect(() => {
    if (!ref.current) return;
    const chart = echarts.init(ref.current, null, { renderer: "svg" });
    chart.setOption(makeOption() as any);
    const a = chart.convertToPixel({ gridIndex: 0 } as any, [-zoomRange, -zoomRange]) as number[];
    const b = chart.convertToPixel({ gridIndex: 1 } as any, [-zoomRange, zoomRange]) as number[];
    const c = chart.convertToPixel({ gridIndex: 0 } as any, [zoomRange, -zoomRange]) as number[];
    const d = chart.convertToPixel({ gridIndex: 1 } as any, [zoomRange, zoomRange]) as number[];
    chart.setOption({
      graphic: [
        { type: "line", silent: true, z: 90, shape: { x1: a[0], y1: a[1], x2: b[0], y2: b[1] }, style: { stroke: EDGE, lineWidth: 1.7 } },
        { type: "line", silent: true, z: 90, shape: { x1: c[0], y1: c[1], x2: d[0], y2: d[1] }, style: { stroke: EDGE, lineWidth: 1.7 } },
        ...legendGraphics(),
      ],
    } as any);
    return () => chart.dispose();
  }, []);
  return <div ref={ref} style={{ position: "absolute", left: 0, top: 0, width: 588, height: 1108 }} />;
}
